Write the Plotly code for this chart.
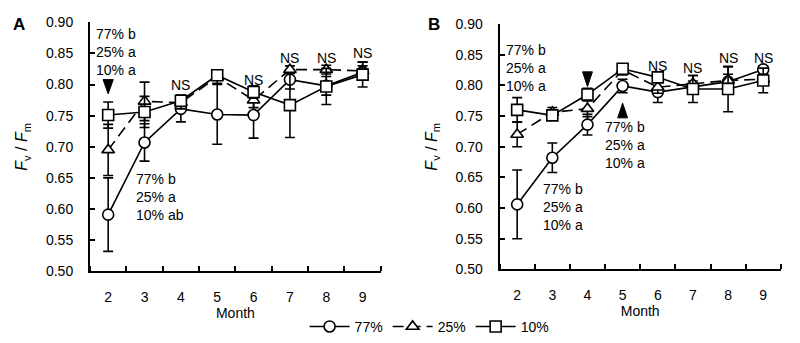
import plotly.graph_objects as go

# Months sampled
months = [2, 3, 4, 5, 6, 7, 8, 9]
month_labels = ["2", "3", "4", "5", "6", "7", "8", "9"]

# Panel A: Fv/Fm means and standard errors for each shade level
a_77 = [0.591, 0.707, 0.761, 0.752, 0.751, 0.808, 0.798, 0.820]
a_77_se = [0.059, 0.030, 0.021, 0.048, 0.037, 0.015, 0.015, 0.010]
a_25 = [0.695, 0.773, 0.771, 0.812, 0.775, 0.824, 0.824, 0.822]
a_25_se = [0.041, 0.031, 0.010, 0.010, 0.012, 0.006, 0.007, 0.014]
a_10 = [0.751, 0.756, 0.774, 0.815, 0.788, 0.767, 0.797, 0.816]
a_10_se = [0.021, 0.025, 0.009, 0.008, 0.010, 0.052, 0.029, 0.020]

# Panel B
b_77 = [0.606, 0.682, 0.736, 0.799, 0.789, 0.797, 0.806, 0.826]
b_77_se = [0.056, 0.024, 0.017, 0.011, 0.017, 0.010, 0.012, 0.006]
b_25 = [0.720, 0.756, 0.762, 0.825, 0.797, 0.803, 0.808, 0.810]
b_25_se = [0.020, 0.008, 0.013, 0.008, 0.010, 0.013, 0.022, 0.008]
b_10 = [0.760, 0.751, 0.785, 0.827, 0.813, 0.794, 0.794, 0.808]
b_10_se = [0.020, 0.008, 0.010, 0.006, 0.008, 0.022, 0.037, 0.020]

y_ticks = [0.50, 0.55, 0.60, 0.65, 0.70, 0.75, 0.80, 0.85, 0.90]

FONT = "Liberation Sans, Arial, sans-serif"
INK = "black"

series_style = {
    "77%": dict(symbol="circle", dash="solid", size=11),
    "25%": dict(symbol="triangle-up", dash="dash", size=11),
    "10%": dict(symbol="square", dash="solid", size=11),
}

fig = go.Figure()


def add_panel(xa, ya, data, show_legend):
    for name, vals, se in data:
        st = series_style[name]
        fig.add_trace(go.Scatter(
            x=months, y=vals, name=name, xaxis=xa, yaxis=ya,
            mode="lines+markers", showlegend=show_legend,
            line=dict(color=INK, width=1.6,
                      dash="11px,6px" if st["dash"] == "dash" else "solid"),
            marker=dict(symbol=st["symbol"], size=st["size"], color="white",
                        line=dict(color=INK, width=1.6)),
            error_y=dict(type="data", array=se, visible=True, color=INK,
                         thickness=1.6, width=5),
            cliponaxis=False,
        ))


add_panel("x", "y", [("77%", a_77, a_77_se), ("25%", a_25, a_25_se), ("10%", a_10, a_10_se)], True)
add_panel("x2", "y2", [("77%", b_77, b_77_se), ("25%", b_25, b_25_se), ("10%", b_10, b_10_se)], False)

xaxis_common = dict(
    range=[1.5, 9.5], tickvals=months, ticktext=month_labels, ticks="",
    showline=True, linecolor=INK, linewidth=2, showgrid=False, zeroline=False,
    tickfont=dict(family=FONT, size=14, color=INK), ticklabelstandoff=12,
    minor=dict(tick0=2.5, dtick=1, ticks="inside", ticklen=5, tickwidth=1.5, tickcolor=INK),
    title=dict(text="Month", font=dict(family=FONT, size=14, color=INK), standoff=0),
)
yaxis_common = dict(
    range=[0.5, 0.9], tickvals=y_ticks, tickformat=".2f", ticks="inside",
    ticklen=5, tickwidth=1.5, tickcolor=INK,
    showline=True, linecolor=INK, linewidth=2, showgrid=False, zeroline=False,
    tickfont=dict(family=FONT, size=14, color=INK), ticklabelstandoff=12,
    title=dict(text="<i>F</i><sub>v</sub> / <i>F</i><sub>m</sub>",
               font=dict(family=FONT, size=16, color=INK), standoff=14),
)

fig.update_layout(
    width=800, height=343,
    margin=dict(l=0, r=0, t=0, b=0),
    paper_bgcolor="white", plot_bgcolor="white",
    font=dict(family=FONT, size=14, color=INK),
    xaxis=dict(domain=[0.1125, 0.476], anchor="y", **xaxis_common),
    yaxis=dict(domain=[0.1924, 0.956], anchor="x", **yaxis_common),
    xaxis2=dict(domain=[0.6245, 0.976], anchor="y2", **xaxis_common),
    yaxis2=dict(domain=[0.198, 0.951], anchor="x2", **yaxis_common),
    legend=dict(orientation="h", x=0.537, xanchor="center", y=0.022, yanchor="middle",
                font=dict(family=FONT, size=14, color=INK), itemwidth=40,
                bgcolor="rgba(0,0,0,0)", tracegroupgap=0),
    showlegend=True,
)

# Significance letters and NS labels
sig3 = "77% b<br>25% a<br>10% a"
notes = [
    # (xref, yref, x, y, text, xanchor, yanchor)
    ("x", "y", 1.62, 0.897, sig3, "left", "top"),
    ("x", "y", 4.97, 0.912, sig3, "center", "top"),
    ("x", "y", 2.72, 0.665, "77% b<br>25% a<br>10% ab", "left", "top"),
    ("x", "y", 4, 0.800, "NS", "center", "middle"),
    ("x", "y", 6, 0.808, "NS", "center", "middle"),
    ("x", "y", 7, 0.842, "NS", "center", "middle"),
    ("x", "y", 8, 0.842, "NS", "center", "middle"),
    ("x", "y", 9, 0.851, "NS", "center", "middle"),
    ("x2", "y2", 1.63, 0.874, sig3, "left", "top"),
    ("x2", "y2", 3.97, 0.918, sig3, "center", "top"),
    ("x2", "y2", 4.43, 0.748, sig3, "left", "top"),
    ("x2", "y2", 2.68, 0.648, sig3, "left", "top"),
    ("x2", "y2", 6, 0.831, "NS", "center", "middle"),
    ("x2", "y2", 7, 0.829, "NS", "center", "middle"),
    ("x2", "y2", 8, 0.845, "NS", "center", "middle"),
    ("x2", "y2", 9, 0.845, "NS", "center", "middle"),
]
for xr, yr, x, y, t, xa, ya in notes:
    fig.add_annotation(xref=xr, yref=yr, x=x, y=y, text=t, showarrow=False,
                       xanchor=xa, yanchor=ya, align="left",
                       font=dict(family=FONT, size=14, color=INK))

# Filled arrowheads pointing at the months with significant differences
arrows = [
    ("x", "y", 2, 0.808, 0.785),
    ("x2", "y2", 4, 0.822, 0.798),
    ("x2", "y2", 5, 0.747, 0.771),
]
for xr, yr, x, base, tip in arrows:
    hw = 0.14
    fig.add_shape(type="path", xref=xr, yref=yr,
                  path=f"M {x - hw},{base} L {x + hw},{base} L {x},{tip} Z",
                  fillcolor=INK, line=dict(color=INK, width=1))

# Panel letters
for px, lab in [(0.0235, "A"), (0.5425, "B")]:
    fig.add_annotation(xref="paper", yref="paper", x=px, y=0.948, text=f"<b>{lab}</b>",
                       showarrow=False, xanchor="center", yanchor="middle",
                       font=dict(family=FONT, size=17, color=INK))

fig.write_html("out.html")
